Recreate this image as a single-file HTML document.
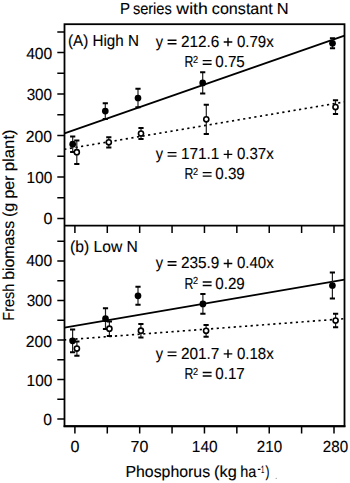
<!DOCTYPE html>
<html><head><meta charset="utf-8"><style>
html,body{margin:0;padding:0;background:#fff;}
svg{display:block;}
</style></head><body>
<svg width="350" height="483" viewBox="0 0 350 483">
<rect x="64.5" y="24.2" width="280.0" height="402.0" fill="none" stroke="#000" stroke-width="1.8"/>
<line x1="64.5" y1="225.6" x2="344.5" y2="225.6" stroke="#000" stroke-width="1.8"/>
<line x1="63.6" y1="426.3" x2="345.4" y2="426.3" stroke="#000" stroke-width="2.0"/>
<path d="M57.3 218.40H64.5 M57.3 419.00H64.5 M57.3 197.68H64.5 M57.3 399.25H64.5 M57.3 176.95H64.5 M57.3 379.50H64.5 M57.3 156.23H64.5 M57.3 359.75H64.5 M57.3 135.50H64.5 M57.3 340.00H64.5 M57.3 114.78H64.5 M57.3 320.25H64.5 M57.3 94.05H64.5 M57.3 300.50H64.5 M57.3 73.33H64.5 M57.3 280.75H64.5 M57.3 52.60H64.5 M57.3 261.00H64.5 M57.3 31.88H64.5 M57.3 241.25H64.5 M74.90 225.6v7.3 M74.90 426.2v7.2 M107.29 225.6v7.3 M107.29 426.2v7.2 M139.68 225.6v7.3 M139.68 426.2v7.2 M172.06 225.6v7.3 M172.06 426.2v7.2 M204.45 225.6v7.3 M204.45 426.2v7.2 M236.84 225.6v7.3 M236.84 426.2v7.2 M269.23 225.6v7.3 M269.23 426.2v7.2 M301.61 225.6v7.3 M301.61 426.2v7.2 M334.00 225.6v7.3 M334.00 426.2v7.2" stroke="#000" stroke-width="1.5" fill="none"/>
<g stroke="#000" stroke-width="1.75" fill="none">
<line x1="64.5" y1="133.4" x2="344.5" y2="35.6"/>
<line x1="64.5" y1="327.6" x2="344.5" y2="279.6"/>
</g>
<g stroke="#000" stroke-width="1.65" fill="none" stroke-dasharray="2.2 3.47">
<line x1="64.5" y1="149.3" x2="344.5" y2="101.9" stroke-dashoffset="0.26"/>
<line x1="64.5" y1="339.9" x2="344.5" y2="318.7" stroke-dashoffset="0.46"/>
</g>
<path d="M72.7 136.40V152.00" stroke="#222" stroke-width="1.2"/><path d="M70.10000000000001 136.40h5.2M70.10000000000001 152.00h5.2" stroke="#000" stroke-width="2.0"/>
<path d="M105.3 103.30V118.90" stroke="#222" stroke-width="1.2"/><path d="M102.7 103.30h5.2M102.7 118.90h5.2" stroke="#000" stroke-width="2.0"/>
<path d="M138.0 88.80V107.20" stroke="#222" stroke-width="1.2"/><path d="M135.4 88.80h5.2M135.4 107.20h5.2" stroke="#000" stroke-width="2.0"/>
<path d="M202.7 72.30V93.50" stroke="#222" stroke-width="1.2"/><path d="M200.1 72.30h5.2M200.1 93.50h5.2" stroke="#000" stroke-width="2.0"/>
<path d="M332.5 38.30V48.30" stroke="#222" stroke-width="1.2"/><path d="M329.9 38.30h5.2M329.9 48.30h5.2" stroke="#000" stroke-width="2.0"/>
<circle cx="72.7" cy="144.2" r="3.35" fill="#000"/>
<circle cx="105.3" cy="111.1" r="3.35" fill="#000"/>
<circle cx="138.0" cy="98.0" r="3.35" fill="#000"/>
<circle cx="202.7" cy="82.9" r="3.35" fill="#000"/>
<circle cx="332.5" cy="43.3" r="3.35" fill="#000"/>
<path d="M76.8 140.40V164.00" stroke="#222" stroke-width="1.2"/><path d="M74.2 140.40h5.2M74.2 164.00h5.2" stroke="#000" stroke-width="2.0"/>
<path d="M108.8 137.20V147.40" stroke="#222" stroke-width="1.2"/><path d="M106.2 137.20h5.2M106.2 147.40h5.2" stroke="#000" stroke-width="2.0"/>
<path d="M141.0 128.10V138.90" stroke="#222" stroke-width="1.2"/><path d="M138.4 128.10h5.2M138.4 138.90h5.2" stroke="#000" stroke-width="2.0"/>
<path d="M206.3 104.70V133.90" stroke="#222" stroke-width="1.2"/><path d="M203.70000000000002 104.70h5.2M203.70000000000002 133.90h5.2" stroke="#000" stroke-width="2.0"/>
<path d="M335.5 100.25V113.95" stroke="#222" stroke-width="1.2"/><path d="M332.9 100.25h5.2M332.9 113.95h5.2" stroke="#000" stroke-width="2.0"/>
<circle cx="76.8" cy="152.2" r="2.55" fill="#fff" stroke="#000" stroke-width="1.6"/>
<circle cx="108.8" cy="142.3" r="2.55" fill="#fff" stroke="#000" stroke-width="1.6"/>
<circle cx="141.0" cy="133.5" r="2.55" fill="#fff" stroke="#000" stroke-width="1.6"/>
<circle cx="206.3" cy="119.3" r="2.55" fill="#fff" stroke="#000" stroke-width="1.6"/>
<circle cx="335.5" cy="107.1" r="2.55" fill="#fff" stroke="#000" stroke-width="1.6"/>
<path d="M72.6 329.40V352.20" stroke="#222" stroke-width="1.2"/><path d="M70.0 329.40h5.2M70.0 352.20h5.2" stroke="#000" stroke-width="2.0"/>
<path d="M105.5 308.30V329.10" stroke="#222" stroke-width="1.2"/><path d="M102.9 308.30h5.2M102.9 329.10h5.2" stroke="#000" stroke-width="2.0"/>
<path d="M138.0 286.80V304.80" stroke="#222" stroke-width="1.2"/><path d="M135.4 286.80h5.2M135.4 304.80h5.2" stroke="#000" stroke-width="2.0"/>
<path d="M202.9 294.00V313.80" stroke="#222" stroke-width="1.2"/><path d="M200.3 294.00h5.2M200.3 313.80h5.2" stroke="#000" stroke-width="2.0"/>
<path d="M332.4 272.60V298.40" stroke="#222" stroke-width="1.2"/><path d="M329.79999999999995 272.60h5.2M329.79999999999995 298.40h5.2" stroke="#000" stroke-width="2.0"/>
<circle cx="72.6" cy="340.8" r="3.35" fill="#000"/>
<circle cx="105.5" cy="318.7" r="3.35" fill="#000"/>
<circle cx="138.0" cy="295.8" r="3.35" fill="#000"/>
<circle cx="202.9" cy="303.9" r="3.35" fill="#000"/>
<circle cx="332.4" cy="285.5" r="3.35" fill="#000"/>
<path d="M76.9 341.50V355.70" stroke="#222" stroke-width="1.2"/><path d="M74.30000000000001 341.50h5.2M74.30000000000001 355.70h5.2" stroke="#000" stroke-width="2.0"/>
<path d="M109.4 321.50V335.90" stroke="#222" stroke-width="1.2"/><path d="M106.80000000000001 321.50h5.2M106.80000000000001 335.90h5.2" stroke="#000" stroke-width="2.0"/>
<path d="M140.9 323.90V337.50" stroke="#222" stroke-width="1.2"/><path d="M138.3 323.90h5.2M138.3 337.50h5.2" stroke="#000" stroke-width="2.0"/>
<path d="M206.1 324.90V336.70" stroke="#222" stroke-width="1.2"/><path d="M203.5 324.90h5.2M203.5 336.70h5.2" stroke="#000" stroke-width="2.0"/>
<path d="M335.6 313.65V327.35" stroke="#222" stroke-width="1.2"/><path d="M333.0 313.65h5.2M333.0 327.35h5.2" stroke="#000" stroke-width="2.0"/>
<circle cx="76.9" cy="348.6" r="2.55" fill="#fff" stroke="#000" stroke-width="1.6"/>
<circle cx="109.4" cy="328.7" r="2.55" fill="#fff" stroke="#000" stroke-width="1.6"/>
<circle cx="140.9" cy="330.7" r="2.55" fill="#fff" stroke="#000" stroke-width="1.6"/>
<circle cx="206.1" cy="330.8" r="2.55" fill="#fff" stroke="#000" stroke-width="1.6"/>
<circle cx="335.6" cy="320.5" r="2.55" fill="#fff" stroke="#000" stroke-width="1.6"/>
<g font-family="Liberation Sans, sans-serif" font-size="16.0" fill="#000" text-rendering="geometricPrecision" stroke="#000" stroke-width="0.12">
<text id="t0" x="120.04" y="14.10" textLength="10.03" lengthAdjust="spacingAndGlyphs">P</text>
<text id="t1" x="132.89" y="14.10" textLength="38.88" lengthAdjust="spacingAndGlyphs">series</text>
<text id="t2" x="176.38" y="14.10" textLength="31.41" lengthAdjust="spacingAndGlyphs">with</text>
<text id="t3" x="211.87" y="14.10" textLength="60.88" lengthAdjust="spacingAndGlyphs">constant</text>
<text id="t4" x="276.85" y="14.10" textLength="11.85" lengthAdjust="spacingAndGlyphs">N</text>
<text id="pa" x="67.97" y="45.60" textLength="70.93" lengthAdjust="spacingAndGlyphs">(A) High N</text>
<text id="pb" x="70.10" y="251.90" textLength="67.82" lengthAdjust="spacingAndGlyphs">(b) Low N</text>
<text id="e1_0" x="155.82" y="46.90" textLength="7.34" lengthAdjust="spacingAndGlyphs">y</text>
<text id="e1_2" x="180.89" y="46.90" textLength="38.42" lengthAdjust="spacingAndGlyphs">212.6</text>
<text id="e1_4" x="236.97" y="46.90" textLength="36.75" lengthAdjust="spacingAndGlyphs">0.79x</text>
<text id="r1_0" x="184.44" y="67.35" textLength="8.89" lengthAdjust="spacingAndGlyphs">R</text>
<text id="r1_2" x="215.29" y="67.35" textLength="29.49" lengthAdjust="spacingAndGlyphs">0.75</text>
<text id="r1_s" x="193.05" y="63.05" font-size="10.20" textLength="5.09" lengthAdjust="spacingAndGlyphs">2</text>
<text id="e2_0" x="155.82" y="159.30" textLength="7.34" lengthAdjust="spacingAndGlyphs">y</text>
<text id="e2_2" x="180.89" y="159.30" textLength="38.42" lengthAdjust="spacingAndGlyphs">171.1</text>
<text id="e2_4" x="236.97" y="159.30" textLength="36.75" lengthAdjust="spacingAndGlyphs">0.37x</text>
<text id="r2_0" x="184.44" y="179.30" textLength="8.89" lengthAdjust="spacingAndGlyphs">R</text>
<text id="r2_2" x="215.29" y="179.30" textLength="29.49" lengthAdjust="spacingAndGlyphs">0.39</text>
<text id="r2_s" x="193.05" y="175.00" font-size="10.20" textLength="5.09" lengthAdjust="spacingAndGlyphs">2</text>
<text id="e3_0" x="155.82" y="268.40" textLength="7.34" lengthAdjust="spacingAndGlyphs">y</text>
<text id="e3_2" x="180.89" y="268.40" textLength="38.42" lengthAdjust="spacingAndGlyphs">235.9</text>
<text id="e3_4" x="236.97" y="268.40" textLength="36.75" lengthAdjust="spacingAndGlyphs">0.40x</text>
<text id="r3_0" x="184.44" y="288.70" textLength="8.89" lengthAdjust="spacingAndGlyphs">R</text>
<text id="r3_2" x="215.29" y="288.70" textLength="29.49" lengthAdjust="spacingAndGlyphs">0.29</text>
<text id="r3_s" x="193.05" y="284.40" font-size="10.20" textLength="5.09" lengthAdjust="spacingAndGlyphs">2</text>
<text id="e4_0" x="155.82" y="358.80" textLength="7.34" lengthAdjust="spacingAndGlyphs">y</text>
<text id="e4_2" x="180.89" y="358.80" textLength="38.42" lengthAdjust="spacingAndGlyphs">201.7</text>
<text id="e4_4" x="236.97" y="358.80" textLength="36.75" lengthAdjust="spacingAndGlyphs">0.18x</text>
<text id="r4_0" x="184.44" y="379.20" textLength="8.89" lengthAdjust="spacingAndGlyphs">R</text>
<text id="r4_2" x="215.29" y="379.20" textLength="29.49" lengthAdjust="spacingAndGlyphs">0.17</text>
<text id="r4_s" x="193.05" y="374.90" font-size="10.20" textLength="5.09" lengthAdjust="spacingAndGlyphs">2</text>
<text id="xl0" x="125.46" y="476.50" textLength="84.67" lengthAdjust="spacingAndGlyphs">Phosphorus</text>
<text id="xl1" x="214.08" y="476.50" textLength="22.69" lengthAdjust="spacingAndGlyphs">(kg</text>
<text id="xl2" x="240.32" y="476.50" textLength="16.07" lengthAdjust="spacingAndGlyphs">ha</text>
<text id="xl3" x="261.01" y="472.60" font-size="10.40" textLength="3.30" lengthAdjust="spacingAndGlyphs">1</text>
<text id="xl4" x="265.54" y="476.50" textLength="3.98" lengthAdjust="spacingAndGlyphs">)</text>
<text id="yt0" x="43.48" y="223.80" textLength="8.96" lengthAdjust="spacingAndGlyphs">0</text>
<text id="yb0" x="43.31" y="424.70" textLength="8.70" lengthAdjust="spacingAndGlyphs">0</text>
<text id="yt100" x="26.57" y="183.20" textLength="25.71" lengthAdjust="spacingAndGlyphs">100</text>
<text id="yb100" x="26.57" y="385.90" textLength="25.71" lengthAdjust="spacingAndGlyphs">100</text>
<text id="yt200" x="25.82" y="141.90" textLength="26.17" lengthAdjust="spacingAndGlyphs">200</text>
<text id="yb200" x="25.82" y="346.50" textLength="26.17" lengthAdjust="spacingAndGlyphs">200</text>
<text id="yt300" x="26.65" y="100.40" textLength="25.45" lengthAdjust="spacingAndGlyphs">300</text>
<text id="yb300" x="26.65" y="306.40" textLength="25.45" lengthAdjust="spacingAndGlyphs">300</text>
<text id="yt400" x="26.18" y="59.40" textLength="26.11" lengthAdjust="spacingAndGlyphs">400</text>
<text id="yb400" x="26.18" y="266.30" textLength="26.11" lengthAdjust="spacingAndGlyphs">400</text>
<text id="x0" x="70.48" y="451.80" textLength="8.96" lengthAdjust="spacingAndGlyphs">0</text>
<text id="x70" x="130.57" y="451.80" textLength="17.75" lengthAdjust="spacingAndGlyphs">70</text>
<text id="x140" x="191.85" y="451.80" textLength="25.77" lengthAdjust="spacingAndGlyphs">140</text>
<text id="x210" x="256.81" y="451.80" textLength="25.26" lengthAdjust="spacingAndGlyphs">210</text>
<text id="x280" x="322.81" y="451.80" textLength="25.26" lengthAdjust="spacingAndGlyphs">280</text>
<text id="yl0" transform="translate(14.4 320.65) rotate(-90)" x="0" y="0" textLength="36.88" lengthAdjust="spacingAndGlyphs">Fresh</text>
<text id="yl1" transform="translate(14.4 279.75) rotate(-90)" x="0" y="0" textLength="58.90" lengthAdjust="spacingAndGlyphs">biomass</text>
<text id="yl2" transform="translate(14.4 217.02) rotate(-90)" x="0" y="0" textLength="14.25" lengthAdjust="spacingAndGlyphs">(g</text>
<text id="yl3" transform="translate(14.4 198.49) rotate(-90)" x="0" y="0" textLength="22.91" lengthAdjust="spacingAndGlyphs">per</text>
<text id="yl4" transform="translate(14.4 171.35) rotate(-90)" x="0" y="0" textLength="42.00" lengthAdjust="spacingAndGlyphs">plant)</text>
</g>
<path d="M167.6 40.20H176.5M167.6 43.75H176.5 M202.7 60.65H211.6M202.7 64.20H211.6 M223.7 42.00H232.3 M228.0 37.70V46.20 M167.6 152.60H176.5M167.6 156.15H176.5 M202.7 172.60H211.6M202.7 176.15H211.6 M223.7 154.40H232.3 M228.0 150.10V158.60 M167.6 261.70H176.5M167.6 265.25H176.5 M202.7 282.00H211.6M202.7 285.55H211.6 M223.7 263.50H232.3 M228.0 259.20V267.70 M167.6 352.10H176.5M167.6 355.65H176.5 M202.7 372.50H211.6M202.7 376.05H211.6 M223.7 353.90H232.3 M228.0 349.60V358.10" stroke="#000" stroke-width="1.4" fill="none"/>
<path d="M257.8 469.4H260.5" stroke="#000" stroke-width="1.2" fill="none"/>
<circle cx="276.2" cy="478.3" r="0.6" fill="#888"/>
</svg>
</body></html>
